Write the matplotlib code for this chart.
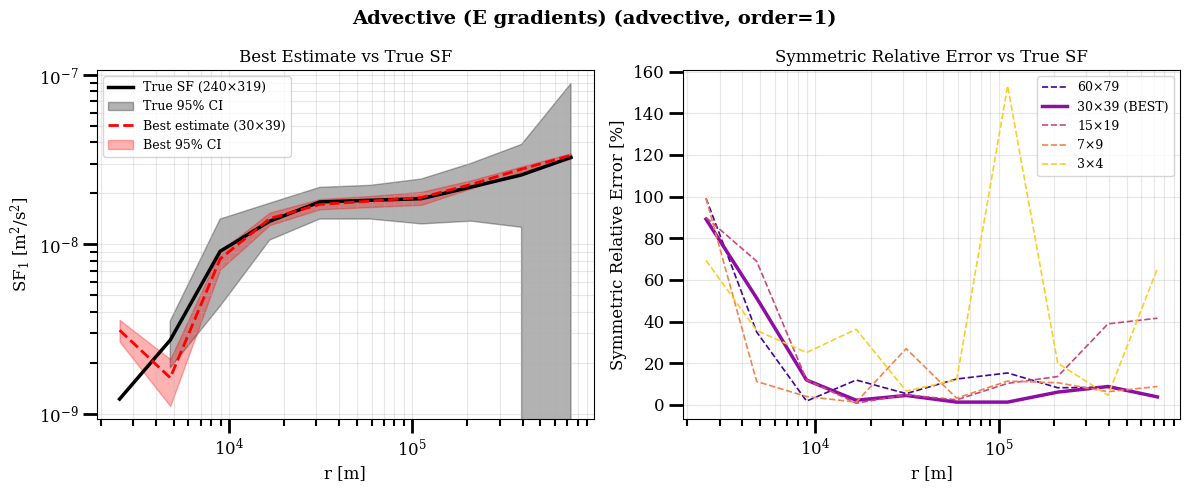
import matplotlib
matplotlib.use("Agg")
import matplotlib.pyplot as plt
import numpy as np

plt.rcParams['font.family'] = 'DejaVu Serif'
plt.rcParams['mathtext.fontset'] = 'dejavuserif'

# separations r [m]
r = np.array([2.53e3, 4.78e3, 8.95e3, 1.67e4, 3.13e4, 5.9e4, 1.12e5, 2.1e5, 3.95e5, 7.35e5])

# true SF and its 95% CI
true_sf = np.array([1.22e-9, 2.72e-9, 9.1e-9, 1.37e-8, 1.78e-8, 1.82e-8, 1.86e-8, 2.18e-8, 2.57e-8, 3.26e-8])
true_lo = np.array([np.nan, 1.86e-9, 4.31e-9, 1.06e-8, 1.41e-8, 1.41e-8, 1.32e-8, 1.37e-8, 1.26e-8, 0.0])
true_hi = np.array([np.nan, 3.52e-9, 1.41e-8, 1.75e-8, 2.17e-8, 2.23e-8, 2.43e-8, 3.01e-8, 3.89e-8, 8.9e-8])

# best estimate (30x39) and its 95% CI
best_sf = np.array([3.11e-9, 1.63e-9, 8.2e-9, 1.42e-8, 1.72e-8, 1.80e-8, 1.89e-8, 2.26e-8, 2.78e-8, 3.36e-8])
best_lo = np.array([2.66e-9, 1.11e-9, 7.1e-9, 1.30e-8, 1.61e-8, 1.66e-8, 1.71e-8, 2.14e-8, 2.68e-8, 3.21e-8])
best_hi = np.array([3.58e-9, 2.1e-9, 9.1e-9, 1.54e-8, 1.85e-8, 1.93e-8, 2.04e-8, 2.39e-8, 2.88e-8, 3.44e-8])

# symmetric relative error [%] per grid
grid_labels = ["60×79", "30×39", "15×19", "7×9", "3×4"]
err_60x79 = [99.2, 35.0, 1.8, 11.9, 5.4, 12.4, 15.3, 8.2, 8.4, 4.0]
err_30x39 = [89.2, 51.3, 11.9, 2.2, 4.5, 1.3, 1.3, 6.1, 8.8, 3.8]
err_15x19 = [90.0, 69.0, 12.0, 0.8, 4.8, 2.4, 10.3, 13.6, 38.9, 41.6]
err_7x9 = [99.2, 11.2, 4.0, 1.3, 27.0, 3.2, 11.4, 10.6, 6.3, 8.8]
err_3x4 = [69.4, 35.7, 25.1, 36.3, 6.6, 12.0, 153.2, 20.0, 4.6, 65.4]
errors = [err_60x79, err_30x39, err_15x19, err_7x9, err_3x4]
best_idx = 1

cols = plt.cm.plasma(np.linspace(0.1, 0.9, 5))

fig, (ax1, ax2) = plt.subplots(1, 2, figsize=(11.89, 4.95), dpi=100)
fig.subplots_adjust(left=0.0816, right=0.9924, top=0.8586, bottom=0.1535, wspace=0.181)

# --- left panel
ax1.plot(r, true_sf, color='black', lw=2.5, label='True SF (240×319)')
ax1.fill_between(r, true_lo, true_hi, color='black', alpha=0.3, label='True 95% CI')
ax1.plot(r, best_sf, color='red', ls='--', lw=2, label='Best estimate (30×39)')
ax1.fill_between(r, best_lo, best_hi, color='red', alpha=0.3, label='Best 95% CI')
ax1.set_xscale('log')
ax1.set_yscale('log')
ax1.set_ylim(9.3e-10, 1.07e-7)
ax1.set_xlabel('r [m]', fontsize=12)
ax1.set_ylabel('SF$_1$ [m$^2$/s$^2$]', fontsize=12)
ax1.set_title('Best Estimate vs True SF', fontsize=12)
ax1.grid(True, which='both', alpha=0.3)
ax1.legend(loc='upper left', fontsize=9)

# --- right panel
for i, (lab, e) in enumerate(zip(grid_labels, errors)):
    if i == best_idx:
        ax2.plot(r, e, color=cols[i], lw=2.5, ls='-', label=f'{lab} (BEST)')
    else:
        ax2.plot(r, e, color=cols[i], lw=1.2, ls='--', label=lab)
ax2.set_xscale('log')
ax2.set_xlabel('r [m]', fontsize=12)
ax2.set_ylabel('Symmetric Relative Error [%]', fontsize=12)
ax2.set_title('Symmetric Relative Error vs True SF', fontsize=12)
ax2.grid(True, which='both', alpha=0.3)
ax2.legend(loc='upper right', fontsize=9)

for ax in (ax1, ax2):
    ax.tick_params(which='major', length=10, width=2, labelsize=12)
    ax.tick_params(which='minor', length=5, width=1.5)

fig.suptitle('Advective (E gradients) (advective, order=1)', fontsize=14, fontweight='bold')
fig.savefig('out.png', dpi=100)
